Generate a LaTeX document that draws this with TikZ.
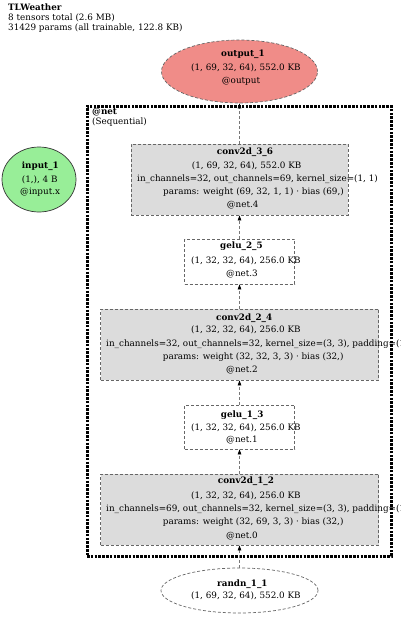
\documentclass[tikz,border=0pt]{standalone}
\usepackage{fontspec}
\setmainfont{DejaVu Serif}
\usetikzlibrary{arrows.meta,shapes.geometric}
\definecolor{boxfill}{HTML}{DCDCDC}
\definecolor{outfill}{HTML}{F08C88}
\definecolor{infill}{HTML}{98EE98}
\definecolor{bordergray}{HTML}{666666}
\definecolor{edgegray}{HTML}{777777}
\begin{document}
\begin{tikzpicture}[x=1pt,y=-1pt,
  lbl/.style={anchor=west, inner sep=0pt, text height=6.4pt, text depth=2pt, font=\fontsize{8.8}{10}\selectfont},
  lblb/.style={lbl, font=\fontsize{8.8}{10}\selectfont\bfseries},
  opbox/.style={draw=bordergray, dash pattern=on 3pt off 2pt, line width=0.7pt, fill=boxfill, inner sep=0pt},
  actbox/.style={draw=bordergray, dash pattern=on 3pt off 2pt, line width=0.7pt, fill=white, inner sep=0pt},
  oval/.style={ellipse, draw=bordergray, line width=0.7pt, inner sep=0pt},
  edge/.style={draw=edgegray, line width=0.7pt, dash pattern=on 3pt off 2pt, -{Triangle[length=5pt,width=3.5pt,black,fill=black]}},
  clusterbox/.style={draw=black, line width=3pt, dash pattern=on 2.6pt off 1.2pt, inner sep=0pt}
]
\useasboundingbox (0,0) rectangle (400,618);

% title
\node[lblb] (title) at (8,8) {TLWeather};
\node[lbl] (tensors) at (8,18) {8 tensors total (2.6 MB)};
\node[lbl] (params) at (8,28) {31429 params (all trainable, 122.8 KB)};

% cluster
\node[clusterbox, minimum width=304pt, minimum height=450pt] (net) at (239,331) {};
\node[lblb] (netl) at (92,112.5) {@net};
\node[lbl] (netseq) at (92,122.5) {(Sequential)};

% output
\node[oval, dash pattern=on 3pt off 2pt, fill=outfill, minimum width=156pt, minimum height=63pt] (out) at (239.5,71.5) {};
\node[lblb] (outa) at (221,54.3) {output\_1};
\node[lbl] (outb) at (191,68.3) {(1, 69, 32, 64), 552.0 KB};
\node[lbl] (outc) at (221.7,81) {@output};

% input
\node[oval, draw=black!80, fill=infill, minimum width=74pt, minimum height=65pt] (inp) at (39,179.5) {};
\node[lblb] (inpa) at (21.7,166) {input\_1};
\node[lbl] (inpb) at (21.7,180) {(1,), 4 B};
\node[lbl] (inpc) at (20,192.7) {@input.x};

% conv2d_3_6
\node[opbox, minimum width=217pt, minimum height=71pt] (c36) at (239.5,179.5) {};
\node[lblb] (c36a) at (216.7,152.7) {conv2d\_3\_6};
\node[lbl] (c36b) at (191.7,166) {(1, 69, 32, 64), 552.0 KB};
\node[lbl] (c36c) at (137,179.5) {in\_channels=32, out\_channels=69, kernel\_size=(1, 1)};
\node[lbl] (c36d) at (163,192) {params: weight (69, 32, 1, 1) · bias (69,)};
\node[lbl] (c36e) at (226.7,205) {@net.4};

% gelu_2_5
\node[actbox, minimum width=110pt, minimum height=45pt] (g25) at (239.5,261.5) {};
\node[lblb] (g25a) at (220,246.7) {gelu\_2\_5};
\node[lbl] (g25b) at (191,261) {(1, 32, 32, 64), 256.0 KB};
\node[lbl] (g25c) at (226,274) {@net.3};

% conv2d_2_4
\node[opbox, minimum width=278pt, minimum height=71pt] (c24) at (239.5,344.5) {};
\node[lblb] (c24a) at (216,318) {conv2d\_2\_4};
\node[lbl] (c24b) at (191,330.7) {(1, 32, 32, 64), 256.0 KB};
\node[lbl] (c24c) at (106,344) {in\_channels=32, out\_channels=32, kernel\_size=(3, 3), padding=(1};
\node[lbl] (c24d) at (162.7,357.7) {params: weight (32, 32, 3, 3) · bias (32,)};
\node[lbl] (c24e) at (226,370) {@net.2};

% gelu_1_3
\node[actbox, minimum width=110pt, minimum height=44pt] (g13) at (239.5,427) {};
\node[lblb] (g13a) at (220.7,415) {gelu\_1\_3};
\node[lbl] (g13b) at (191,428) {(1, 32, 32, 64), 256.0 KB};
\node[lbl] (g13c) at (226,440.7) {@net.1};

% conv2d_1_2
\node[opbox, minimum width=278pt, minimum height=71pt] (c12) at (239.5,509.5) {};
\node[lblb] (c12a) at (217.7,481.7) {conv2d\_1\_2};
\node[lbl] (c12b) at (191,496.7) {(1, 32, 32, 64), 256.0 KB};
\node[lbl] (c12c) at (106,509.3) {in\_channels=69, out\_channels=32, kernel\_size=(3, 3), padding=(1};
\node[lbl] (c12d) at (162.7,522.7) {params: weight (32, 69, 3, 3) · bias (32,)};
\node[lbl] (c12e) at (226,536) {@net.0};

% randn_1_1
\node[oval, dash pattern=on 3pt off 2pt, fill=white, minimum width=157pt, minimum height=45pt] (rnd) at (239.5,590.5) {};
\node[lblb] (rnda) at (217,584) {randn\_1\_1};
\node[lbl] (rndb) at (191,596.7) {(1, 69, 32, 64), 552.0 KB};

% edges
\draw[edge] (rnd.north) -- (c12.south);
\draw[edge] (c12.north) -- (g13.south);
\draw[edge] (g13.north) -- (c24.south);
\draw[edge] (c24.north) -- (g25.south);
\draw[edge] (g25.north) -- (c36.south);
\draw[edge] (c36.north) -- (out.south);
\end{tikzpicture}
\end{document}
